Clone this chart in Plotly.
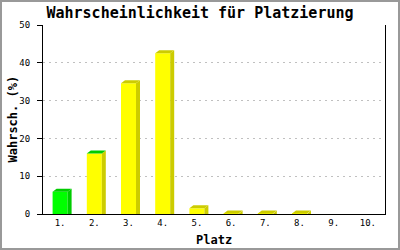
import plotly.graph_objects as go

# ---- data ----
places = [1, 2, 3, 4, 5, 6, 7, 8, 9, 10]
tick_labels = ["1.", "2.", "3.", "4.", "5.", "6.", "7.", "8.", "9.", "10."]
probabilities = [5.9, 16.0, 34.6, 42.5, 1.5, 0.1, 0.1, 0.1, 0.0, 0.0]
y_ticks = [0, 10, 20, 30, 40, 50]

# ---- style / layout constants ----
W, H = 400, 250
ML, MR, MT, MB = 43, 15, 25, 36
plot_w = W - ML - MR
plot_h = H - MT - MB
x_range = [0.5, 10.5]
y_range = [0, 50]
px_x = plot_w / (x_range[1] - x_range[0])
px_y = plot_h / (y_range[1] - y_range[0])
bar_w = 15 / px_x
dx = 4 / px_x
dy = 3 / px_y

front_cols = ["#00ff00"] + ["#ffff00"] * 9
side_cols = ["#00cc00"] + ["#cccc00"] * 9
top_cols = ["#00cc00", "#00cc00"] + ["#cccc00"] * 8

fig = go.Figure()

# side and top faces (pseudo-3D), derived from the data
for x, v, sc, tc in zip(places, probabilities, side_cols, top_cols):
    if v <= 0:
        continue
    x0 = x - bar_w / 2
    x1 = x + bar_w / 2
    fig.add_trace(go.Scatter(
        x=[x1, x1 + dx, x1 + dx, x1, x1],
        y=[0, 0, v + dy, v, 0],
        fill="toself", fillcolor=sc, mode="lines", line=dict(width=0, color=sc),
        hoverinfo="skip", showlegend=False))
    fig.add_trace(go.Scatter(
        x=[x0, x1, x1 + dx, x0 + dx, x0],
        y=[v, v, v + dy, v + dy, v],
        fill="toself", fillcolor=tc, mode="lines", line=dict(width=0, color=tc),
        hoverinfo="skip", showlegend=False))

# front faces
fig.add_trace(go.Bar(
    x=places, y=probabilities, width=bar_w,
    marker=dict(color=front_cols, line=dict(width=0)),
    showlegend=False, hoverinfo="x+y"))

mono = "DejaVu Sans Mono"

fig.update_layout(
    width=W, height=H,
    margin=dict(l=ML, r=MR, t=MT, b=MB, pad=0, autoexpand=False),
    paper_bgcolor="white", plot_bgcolor="white",
    title=dict(text="<b>Wahrscheinlichkeit für Platzierung</b>",
               x=0.5, xref="container", xanchor="center",
               y=1 - 13 / H, yref="container", yanchor="middle",
               font=dict(family=mono, size=15, color="black")),
    xaxis=dict(range=x_range, tickvals=places, ticktext=tick_labels,
               showgrid=False, zeroline=False, showline=True, linecolor="black",
               linewidth=1, ticks="", ticklabelstandoff=0, automargin=False,
               tickfont=dict(family=mono, size=9, color="black")),
    yaxis=dict(range=y_range, tickvals=y_ticks, showgrid=True,
               gridcolor="#c0c0c0", griddash="2px,4px", gridwidth=1,
               zeroline=False, showline=True, mirror=True, linecolor="black",
               linewidth=1, ticks="outside", ticklen=5, tickcolor="black",
               ticklabelstandoff=5, automargin=False,
               tickfont=dict(family=mono, size=9, color="black")),
    annotations=[
        dict(text="<b>Platz</b>", xref="paper", yref="paper",
             x=0.5, y=-(240 - (MT + plot_h)) / plot_h, xanchor="center",
             yanchor="middle", showarrow=False,
             font=dict(family=mono, size=12, color="black")),
        dict(text="<b>Wahrsch. (%)</b>", xref="paper", yref="paper",
             x=-(ML - 12) / plot_w, y=0.5, xanchor="center", yanchor="middle",
             textangle=-90, showarrow=False,
             font=dict(family=mono, size=12, color="black")),
    ],
    shapes=[dict(type="rect", xref="paper", yref="paper",
                 x0=(1 - ML) / plot_w, x1=(W - 1 - ML) / plot_w,
                 y0=-(MB - 1) / plot_h, y1=1 + (MT - 1) / plot_h,
                 line=dict(color="#999999", width=2), layer="above")],
)

fig.write_html("out.html")
